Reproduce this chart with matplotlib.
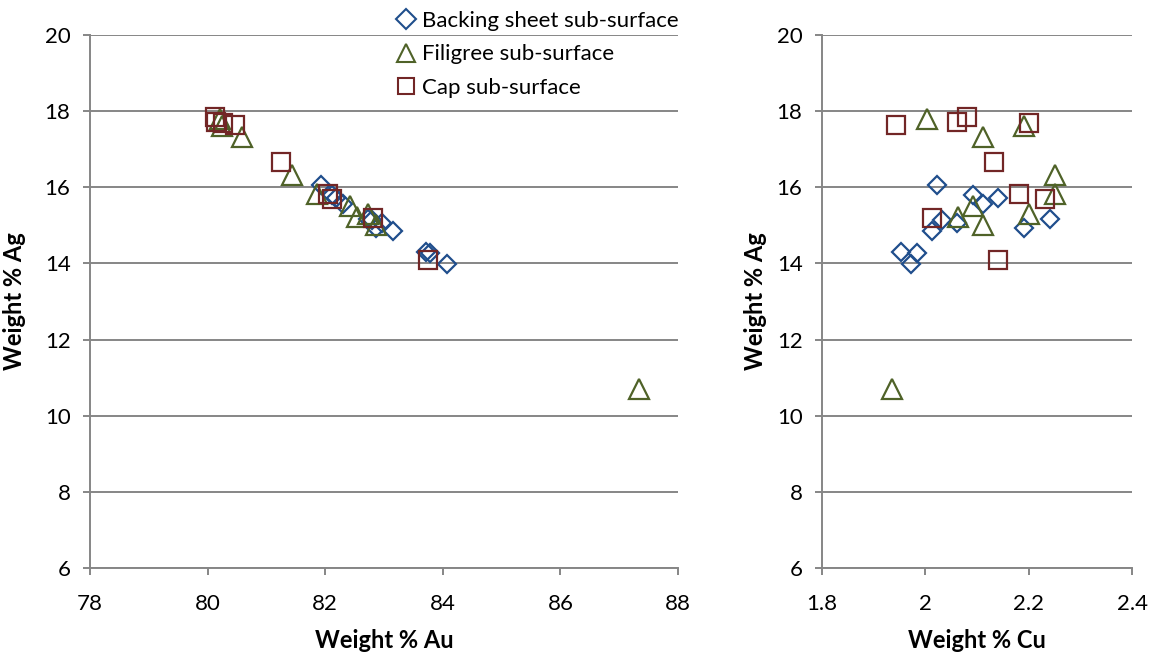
import matplotlib
matplotlib.use("Agg")
import matplotlib.pyplot as plt

plt.rcParams['font.family'] = ['Lato', 'DejaVu Sans']

# Backing sheet sub-surface
back_au = [81.93, 82.11, 82.19, 82.30, 82.73, 82.79, 82.96, 82.87, 83.15, 83.72, 83.78, 84.07]
back_cu = [2.022, 2.092, 2.141, 2.112, 2.241, 2.032, 2.062, 2.191, 2.012, 1.953, 1.983, 1.972]
back_ag = [16.05, 15.80, 15.72, 15.55, 15.18, 15.14, 15.05, 14.93, 14.85, 14.30, 14.27, 13.98]

# Filigree sub-surface
fil_au = [80.21, 80.24, 80.58, 81.43, 81.86, 82.42, 82.73, 82.54, 82.87, 87.34]
fil_cu = [2.003, 2.191, 2.112, 2.251, 2.251, 2.092, 2.201, 2.063, 2.112, 1.935]
fil_ag = [17.80, 17.62, 17.33, 16.32, 15.82, 15.52, 15.30, 15.22, 15.00, 10.70]

# Cap sub-surface
cap_au = [80.13, 80.14, 80.26, 80.47, 81.25, 82.05, 82.11, 82.81, 83.75]
cap_cu = [2.081, 2.062, 2.201, 1.943, 2.132, 2.181, 2.232, 2.012, 2.141]
cap_ag = [17.85, 17.72, 17.70, 17.64, 16.66, 15.82, 15.70, 15.20, 14.10]

labels = ["Backing sheet sub-surface", "Filigree sub-surface", "Cap sub-surface"]
colors = ["#1F4E8C", "#4F6228", "#722626"]

cu_ticks = [1.8, 2.0, 2.2, 2.4]
cu_ticklabels = ["1.8", "2", "2.2", "2.4"]

fig = plt.figure(figsize=(11.72, 6.52), dpi=100)
ax1 = fig.add_axes([90 / 1172, 1 - 568 / 652, 588 / 1172, 533 / 652])
ax2 = fig.add_axes([822 / 1172, 1 - 568 / 652, 310 / 1172, 533 / 652])

series = [
    (back_au, back_cu, back_ag, 'D', 9.0),
    (fil_au, fil_cu, fil_ag, '^', 14.0),
    (cap_au, cap_cu, cap_ag, 's', 13.0),
]

handles = []
for (au, cu, ag, m, ms), lab, c in zip(series, labels, colors):
    h, = ax1.plot(au, ag, ls='none', marker=m, ms=ms, mfc='none', mec=c, mew=1.6, label=lab)
    ax2.plot(cu, ag, ls='none', marker=m, ms=ms, mfc='none', mec=c, mew=1.6)
    handles.append(h)

for ax, ylx in ((ax1, -0.128), (ax2, -0.216)):
    ax.set_ylim(6, 20)
    ax.set_yticks(range(6, 21, 2))
    ax.grid(axis='y', color='#868686', lw=1.4)
    ax.set_axisbelow(True)
    for s in ('top', 'right'):
        ax.spines[s].set_visible(False)
    for s in ('left', 'bottom'):
        ax.spines[s].set_color('#868686')
        ax.spines[s].set_linewidth(1.4)
    ax.tick_params(labelsize=16, color='#868686', length=5, width=1.4)
    ax.tick_params(axis='y', pad=9)
    ax.tick_params(axis='x', pad=14)
    ax.set_ylabel("Weight % Ag", fontsize=17, fontweight='bold', va='center')
    ax.yaxis.set_label_coords(ylx, 0.5)

ax1.set_xlim(78, 88)
ax1.set_xticks(range(78, 89, 2))
ax1.set_xlabel("Weight % Au", fontsize=17, fontweight='bold', va='center')
ax1.xaxis.set_label_coords(0.5, -0.136)

ax2.set_xlim(1.8, 2.4)
ax2.set_xticks(cu_ticks)
ax2.set_xticklabels(cu_ticklabels)
ax2.set_xlabel("Weight % Cu", fontsize=17, fontweight='bold', va='center')
ax2.xaxis.set_label_coords(0.5, -0.136)

leg_handles = []
for h, ms in zip(handles, [10, 13, 12]):
    lh, = ax1.plot([], [], ls='none', marker=h.get_marker(), ms=ms, mfc='none',
                   mec=h.get_markeredgecolor(), mew=1.5)
    leg_handles.append(lh)
fig.legend(leg_handles, labels, loc='upper left', bbox_to_anchor=(393 / 1172, 1 - 11 / 652),
           frameon=False, fontsize=16, handletextpad=0.1, handlelength=1.2,
           labelspacing=0.6, borderaxespad=0, borderpad=0)

fig.savefig("out.png", dpi=100)
